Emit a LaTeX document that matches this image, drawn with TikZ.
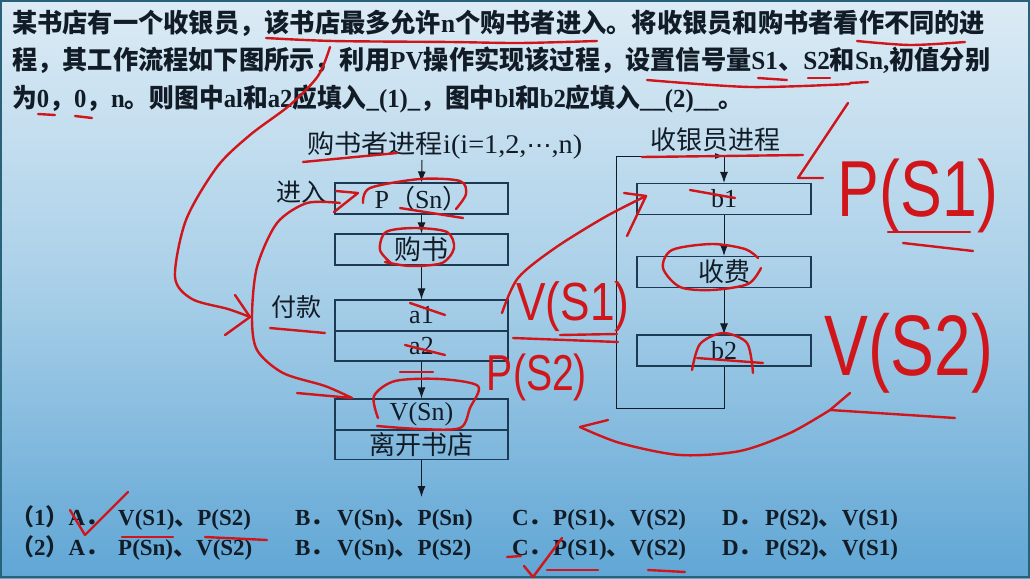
\documentclass[tikz,border=0pt]{standalone}
\usepackage{fontspec}
\usepackage{graphicx}
\setmainfont{Liberation Serif}
\newfontfamily\cjk{Noto Sans CJK SC}
\newfontfamily\hand{Liberation Sans}
\newfontfamily\sym{DejaVu Sans}
\usetikzlibrary{arrows.meta}
\definecolor{ink}{RGB}{18,28,38}
\definecolor{boxline}{RGB}{28,58,84}
\definecolor{penred}{RGB}{208,22,26}
\definecolor{bgtop}{RGB}{220,235,245}
\definecolor{bgmid}{RGB}{168,207,232}
\definecolor{bgbot}{RGB}{96,166,213}
\definecolor{frame}{RGB}{40,98,120}
\newcommand{\fs}[1]{\fontsize{#1}{#1}\selectfont}
\tikzset{
  box/.style={draw=boxline, line width=1.1pt, minimum width=173pt, minimum height=31pt, inner sep=0pt, text=ink},
  flow/.style={-{Latex[length=11pt,width=8pt]}, draw=ink, line width=1pt},
  loopline/.style={draw=ink, line width=1pt},
  txt/.style={text=ink, inner sep=0pt},
  redpen/.style={draw=penred, line width=2.4pt, line cap=round, line join=round},
  redtxt/.style={text=penred, inner sep=0pt},
}
\begin{document}
\begin{tikzpicture}[x=1pt,y=-1pt]
\useasboundingbox (0,0) rectangle (1030,578);
\shade[top color=bgtop, bottom color=bgbot, middle color=bgmid] (0,0) rectangle (1030,578);
\draw[frame, line width=1.6pt] (0.8,0.8) rectangle (1029.2,577.2);

% question text
\begin{scope}[every node/.style={txt, anchor=base west}]
\node (q1) at (12,33) {\resizebox{973pt}{\height}{\fs{26}\bfseries{\cjk 某书店有一个收银员，该书店最多允许}n{\cjk 个购书者进入。将收银员和购书者看作不同的进}}};
\node (q2) at (12,70) {\resizebox{978pt}{\height}{\fs{26}\bfseries{\cjk 程，其工作流程如下图所示，利用}PV{\cjk 操作实现该过程，设置信号量}S1{\cjk 、}S2{\cjk 和}Sn,{\cjk 初值分别}}};
\node (q3) at (12,107) {\resizebox{731pt}{\height}{\fs{26}\bfseries{\cjk 为}0{\cjk ，}0{\cjk ，}n{\cjk 。则图中}al{\cjk 和}a2{\cjk 应填入}\_(1)\_{\cjk ，图中}bl{\cjk 和}b2{\cjk 应填入}\_\_(2)\_\_{\cjk 。}}};
\end{scope}

% left process
\node[txt, anchor=west] (tl) at (307,145) {\resizebox{275pt}{\height}{{\fs{26}\cjk 购书者进程}{\fs{27}i(i=1,2,{\sym\fs{24}⋯},n)}}};
\coordinate (tlb) at (422,160);
\node[box] (ps) at (421.5,198.5) {\fs{26}P{\cjk （}Sn{\cjk ）}};
\node[box] (buy) at (421.5,249.5) {\fs{27}\cjk 购书};
\node[box] (a1) at (421.5,315.5) {\fs{26}a1};
\node[box, minimum height=30pt] (a2) at (421.5,346) {\fs{26}a2};
\node[box] (vs) at (421.5,414.5) {\fs{26}V(Sn)};
\node[box, minimum height=29.5pt] (leave) at (421.5,444.7) {\fs{26}\cjk 离开书店};
\coordinate (lend) at (421.5,497);
\node[txt, anchor=west] (lin) at (276,192) {\fs{25}\cjk 进入};
\node[txt, anchor=west] (lpay) at (271,307) {\fs{25}\cjk 付款};
\draw[flow] (tlb) -- (ps.north);
\draw[flow] (ps.south) -- (buy.north);
\draw[flow] (buy.south) -- (a1.north);
\draw[flow] (a2.south) -- (vs.north);
\draw[flow] (leave.south) -- (lend);

% right process
\node[txt] (tr) at (715,140) {\fs{26}\cjk 收银员进程};
\node[box, minimum width=174pt] (b1) at (724,199) {\fs{26}b1};
\node[box, minimum width=174pt] (fee) at (724,272) {\fs{26}\cjk 收费};
\node[box, minimum width=174pt] (b2) at (724,350.5) {\fs{26}b2};
\coordinate (lp1) at (724,408);
\coordinate (lp2) at (616,408);
\coordinate (lp3) at (616,156);
\coordinate (lp4) at (724,156);
\draw[loopline, -{Latex[length=9pt,width=6pt]}] (b2.south) -- (lp1) -- (lp2) -- (lp3) -- (lp4);
\draw[flow] (lp4) -- (b1.north);
\draw[flow] (b1.south) -- (fee.north);
\draw[flow] (fee.south) -- (b2.north);

% options
\begin{scope}[every node/.style={txt, anchor=base west}]
\node (o1a) at (11,525) {\fs{23}\bfseries{\cjk （}1{\cjk ）}A{\cjk ．}};
\node (o1av) at (118,525) {\fs{23}\bfseries V(S1){\cjk 、}P(S2)};
\node (o1b) at (295,525) {\fs{23}\bfseries B{\cjk ．}};
\node (o1bv) at (337,525) {\fs{23}\bfseries V(Sn){\cjk 、}P(Sn)};
\node (o1c) at (512,525) {\fs{23}\bfseries C{\cjk ．}};
\node (o1cv) at (553,525) {\fs{23}\bfseries P(S1){\cjk 、}V(S2)};
\node (o1d) at (722,525) {\fs{23}\bfseries D{\cjk ．}};
\node (o1dv) at (765,525) {\fs{23}\bfseries P(S2){\cjk 、}V(S1)};
\node (o2a) at (11,555) {\fs{23}\bfseries{\cjk （}2{\cjk ）}A{\cjk ．}};
\node (o2av) at (118,555) {\fs{23}\bfseries P(Sn){\cjk 、}V(S2)};
\node (o2b) at (295,555) {\fs{23}\bfseries B{\cjk ．}};
\node (o2bv) at (337,555) {\fs{23}\bfseries V(Sn){\cjk 、}P(S2)};
\node (o2c) at (512,555) {\fs{23}\bfseries C{\cjk ．}};
\node (o2cv) at (553,555) {\fs{23}\bfseries P(S1){\cjk 、}V(S2)};
\node (o2d) at (722,555) {\fs{23}\bfseries D{\cjk ．}};
\node (o2dv) at (765,555) {\fs{23}\bfseries P(S2){\cjk 、}V(S1)};
\end{scope}

% handwritten annotations
\node[redtxt] (hps1) at (918,196) {\resizebox*{160pt}{74pt}{\hand P(S1)}};
\node[redtxt] (hvs1) at (573,307) {\resizebox*{113pt}{50pt}{\hand V(S1)}};
\node[redtxt] (hps2) at (537,377) {\resizebox*{100pt}{47pt}{\hand P(S2)}};
\node[redtxt] (hvs2) at (909,353) {\resizebox*{168pt}{80pt}{\hand V(S2)}};

% red marks: question underlines
\draw[redpen] plot[smooth] coordinates {(266,38) (333,41) (450,42) (520,43) (597,41)};
\draw[redpen] plot[smooth] coordinates {(857,41) (910,45) (965,42)};
\draw[redpen] plot[smooth] coordinates {(647,80) (750,87) (850,84)};
\draw[redpen] (850,83) -- (868,82);
\draw[redpen] (758,78) -- (787,80);
\draw[redpen] (808,78) -- (830,78);
\draw[redpen] (38,114) -- (55,115);
\draw[redpen] (75,116) -- (92,118);
% big curve 1
\draw[redpen] plot[smooth] coordinates {(330,47) (318,76) (290,105) (250,135) (217,167) (186,220) (175,277) (192,299) (228,309) (250,317)};
\draw[redpen] (235,295) -- (250,317) -- (225,335);
% curve 2
\draw[redpen] plot[smooth] coordinates {(340,203) (307,203) (277,223) (257,267) (252,317) (257,350) (283,373) (325,386) (352,398)};
\draw[redpen] (297,393) -- (352,398);
\draw[redpen] (336,191) -- (358,193) -- (334,212);
% left annotations
\draw[redpen] (303,162) -- (397,153);
\draw[redpen] (270,328) -- (325,333);
\draw[redpen] plot[smooth] coordinates {(363,203) (370,188) (420,179) (460,181) (466,194) (456,209)};
\draw[redpen] (400,208) -- (463,218);
\draw[redpen] plot[smooth] coordinates {(392,264) (380,250) (386,232) (415,228) (447,232) (454,248) (442,263) (410,266) (385,262)};
\draw[redpen] (410,303) -- (445,315);
\draw[redpen] (405,345) -- (445,355);
\draw[redpen] (400,372) -- (433,372);
\draw[redpen] plot[smooth] coordinates {(378,418) (374,396) (395,381) (440,379) (478,386) (470,408) (460,428) (420,429) (377,426)};
% right annotations
\draw[redpen] (642,157) -- (803,155);
\draw[redpen] (848,103) -- (798,178) -- (823,178);
\draw[redpen] (690,190) -- (735,198);
\draw[redpen] plot[smooth] coordinates {(502,313) (518,278) (555,248) (605,217) (646,196)};
\draw[redpen] (627,236) -- (646,196) -- (624,193);
\draw[redpen] plot[smooth] coordinates {(758,258) (745,249) (712,244) (672,250) (663,268) (680,287) (712,290) (748,284) (761,268)};
\draw[redpen] plot[smooth] coordinates {(692,370) (700,344) (723,333) (747,343) (753,373)};
\draw[redpen] (697,358) -- (763,363);
\draw[redpen] (513,338) -- (618,342);
\draw[redpen] (560,335) -- (617,334);
\draw[redpen] (888,232) -- (970,232);
\draw[redpen] (903,243) -- (973,251);
\draw[redpen] (955,418) -- (830,410) -- (850,393);
\draw[redpen] plot[smooth] coordinates {(830,410) (790,433) (740,451) (680,455) (620,443) (580,427)};
\draw[redpen] (608,420) -- (580,427);
% option marks
\draw[redpen] (70,510) -- (85,535) -- (128,492);
\draw[redpen] (122,537) -- (173,537);
\draw[redpen] (205,537) -- (267,540);
\draw[redpen] (507,557) -- (521,556);
\draw[redpen] (524,566) -- (533,577) -- (562,538);
\draw[redpen] (547,570) -- (598,570);
\draw[redpen] (648,570) -- (685,572);
\end{tikzpicture}
\end{document}
